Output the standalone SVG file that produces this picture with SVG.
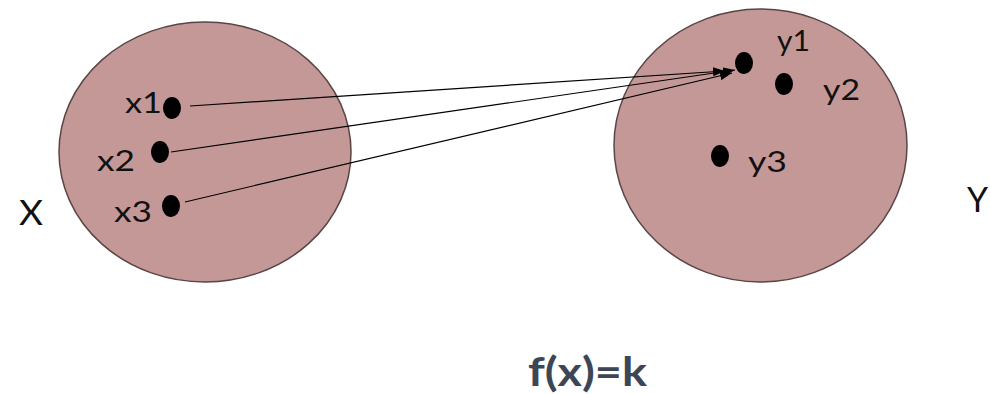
<svg xmlns="http://www.w3.org/2000/svg" width="990" height="394" viewBox="0 0 990 394">
<style>
.set{fill:#c49896;stroke:#5a4545;stroke-width:1.5}
.dot{fill:#000}
.lbl{font-family:"Lato","Liberation Sans",sans-serif;font-size:29px;fill:#111}
.big{font-family:"Lato","Liberation Sans",sans-serif;font-size:34px;fill:#111}
.conn{stroke:#000;stroke-width:1.2;fill:none;marker-end:url(#ah)}
.title{font-family:"Lato","Liberation Sans",sans-serif;font-weight:bold;font-size:40px;fill:#3d4656}
</style>
<defs>
<marker id="ah" markerWidth="12" markerHeight="9" refX="12" refY="4.5" orient="auto" markerUnits="userSpaceOnUse">
<path d="M0,0 L12,4.5 L0,9 Z" fill="#000"/>
</marker>
</defs>
<rect width="990" height="394" fill="#fff"/>
<g id="setX">
<ellipse class="set" cx="205" cy="152" rx="146" ry="130"/>
<text class="big" x="19" y="225" textLength="24" lengthAdjust="spacingAndGlyphs">X</text>
</g>
<g id="setY">
<ellipse class="set" cx="760.5" cy="145.5" rx="146.5" ry="136.5"/>
<text class="big" x="967" y="212" textLength="21" lengthAdjust="spacingAndGlyphs">Y</text>
</g>
<g id="x1"><ellipse class="dot" cx="172" cy="108" rx="9" ry="11"/><text class="lbl" x="125" y="113" textLength="37" lengthAdjust="spacingAndGlyphs">x1</text></g>
<g id="x2"><ellipse class="dot" cx="160" cy="152" rx="9" ry="11"/><text class="lbl" x="97" y="171" textLength="38" lengthAdjust="spacingAndGlyphs">x2</text></g>
<g id="x3"><ellipse class="dot" cx="171" cy="206" rx="9" ry="11"/><text class="lbl" x="114" y="222" textLength="38" lengthAdjust="spacingAndGlyphs">x3</text></g>
<g id="y1"><ellipse class="dot" cx="744" cy="63" rx="9" ry="11"/><text class="lbl" x="777" y="51" textLength="33" lengthAdjust="spacingAndGlyphs">y1</text></g>
<g id="y2"><ellipse class="dot" cx="784" cy="84" rx="9" ry="11"/><text class="lbl" x="823" y="100" textLength="37" lengthAdjust="spacingAndGlyphs">y2</text></g>
<g id="y3"><ellipse class="dot" cx="720" cy="156" rx="9" ry="11"/><text class="lbl" x="748" y="172" textLength="39" lengthAdjust="spacingAndGlyphs">y3</text></g>
<g id="connectors">
<line class="conn" x1="190" y1="106" x2="725" y2="71"/>
<line class="conn" x1="171" y1="152" x2="735" y2="70"/>
<line class="conn" x1="185" y1="202" x2="732" y2="73"/>
</g>
<g id="formula"><text class="title" x="528" y="386" textLength="119" lengthAdjust="spacingAndGlyphs">f(x)=k</text></g>
</svg>
